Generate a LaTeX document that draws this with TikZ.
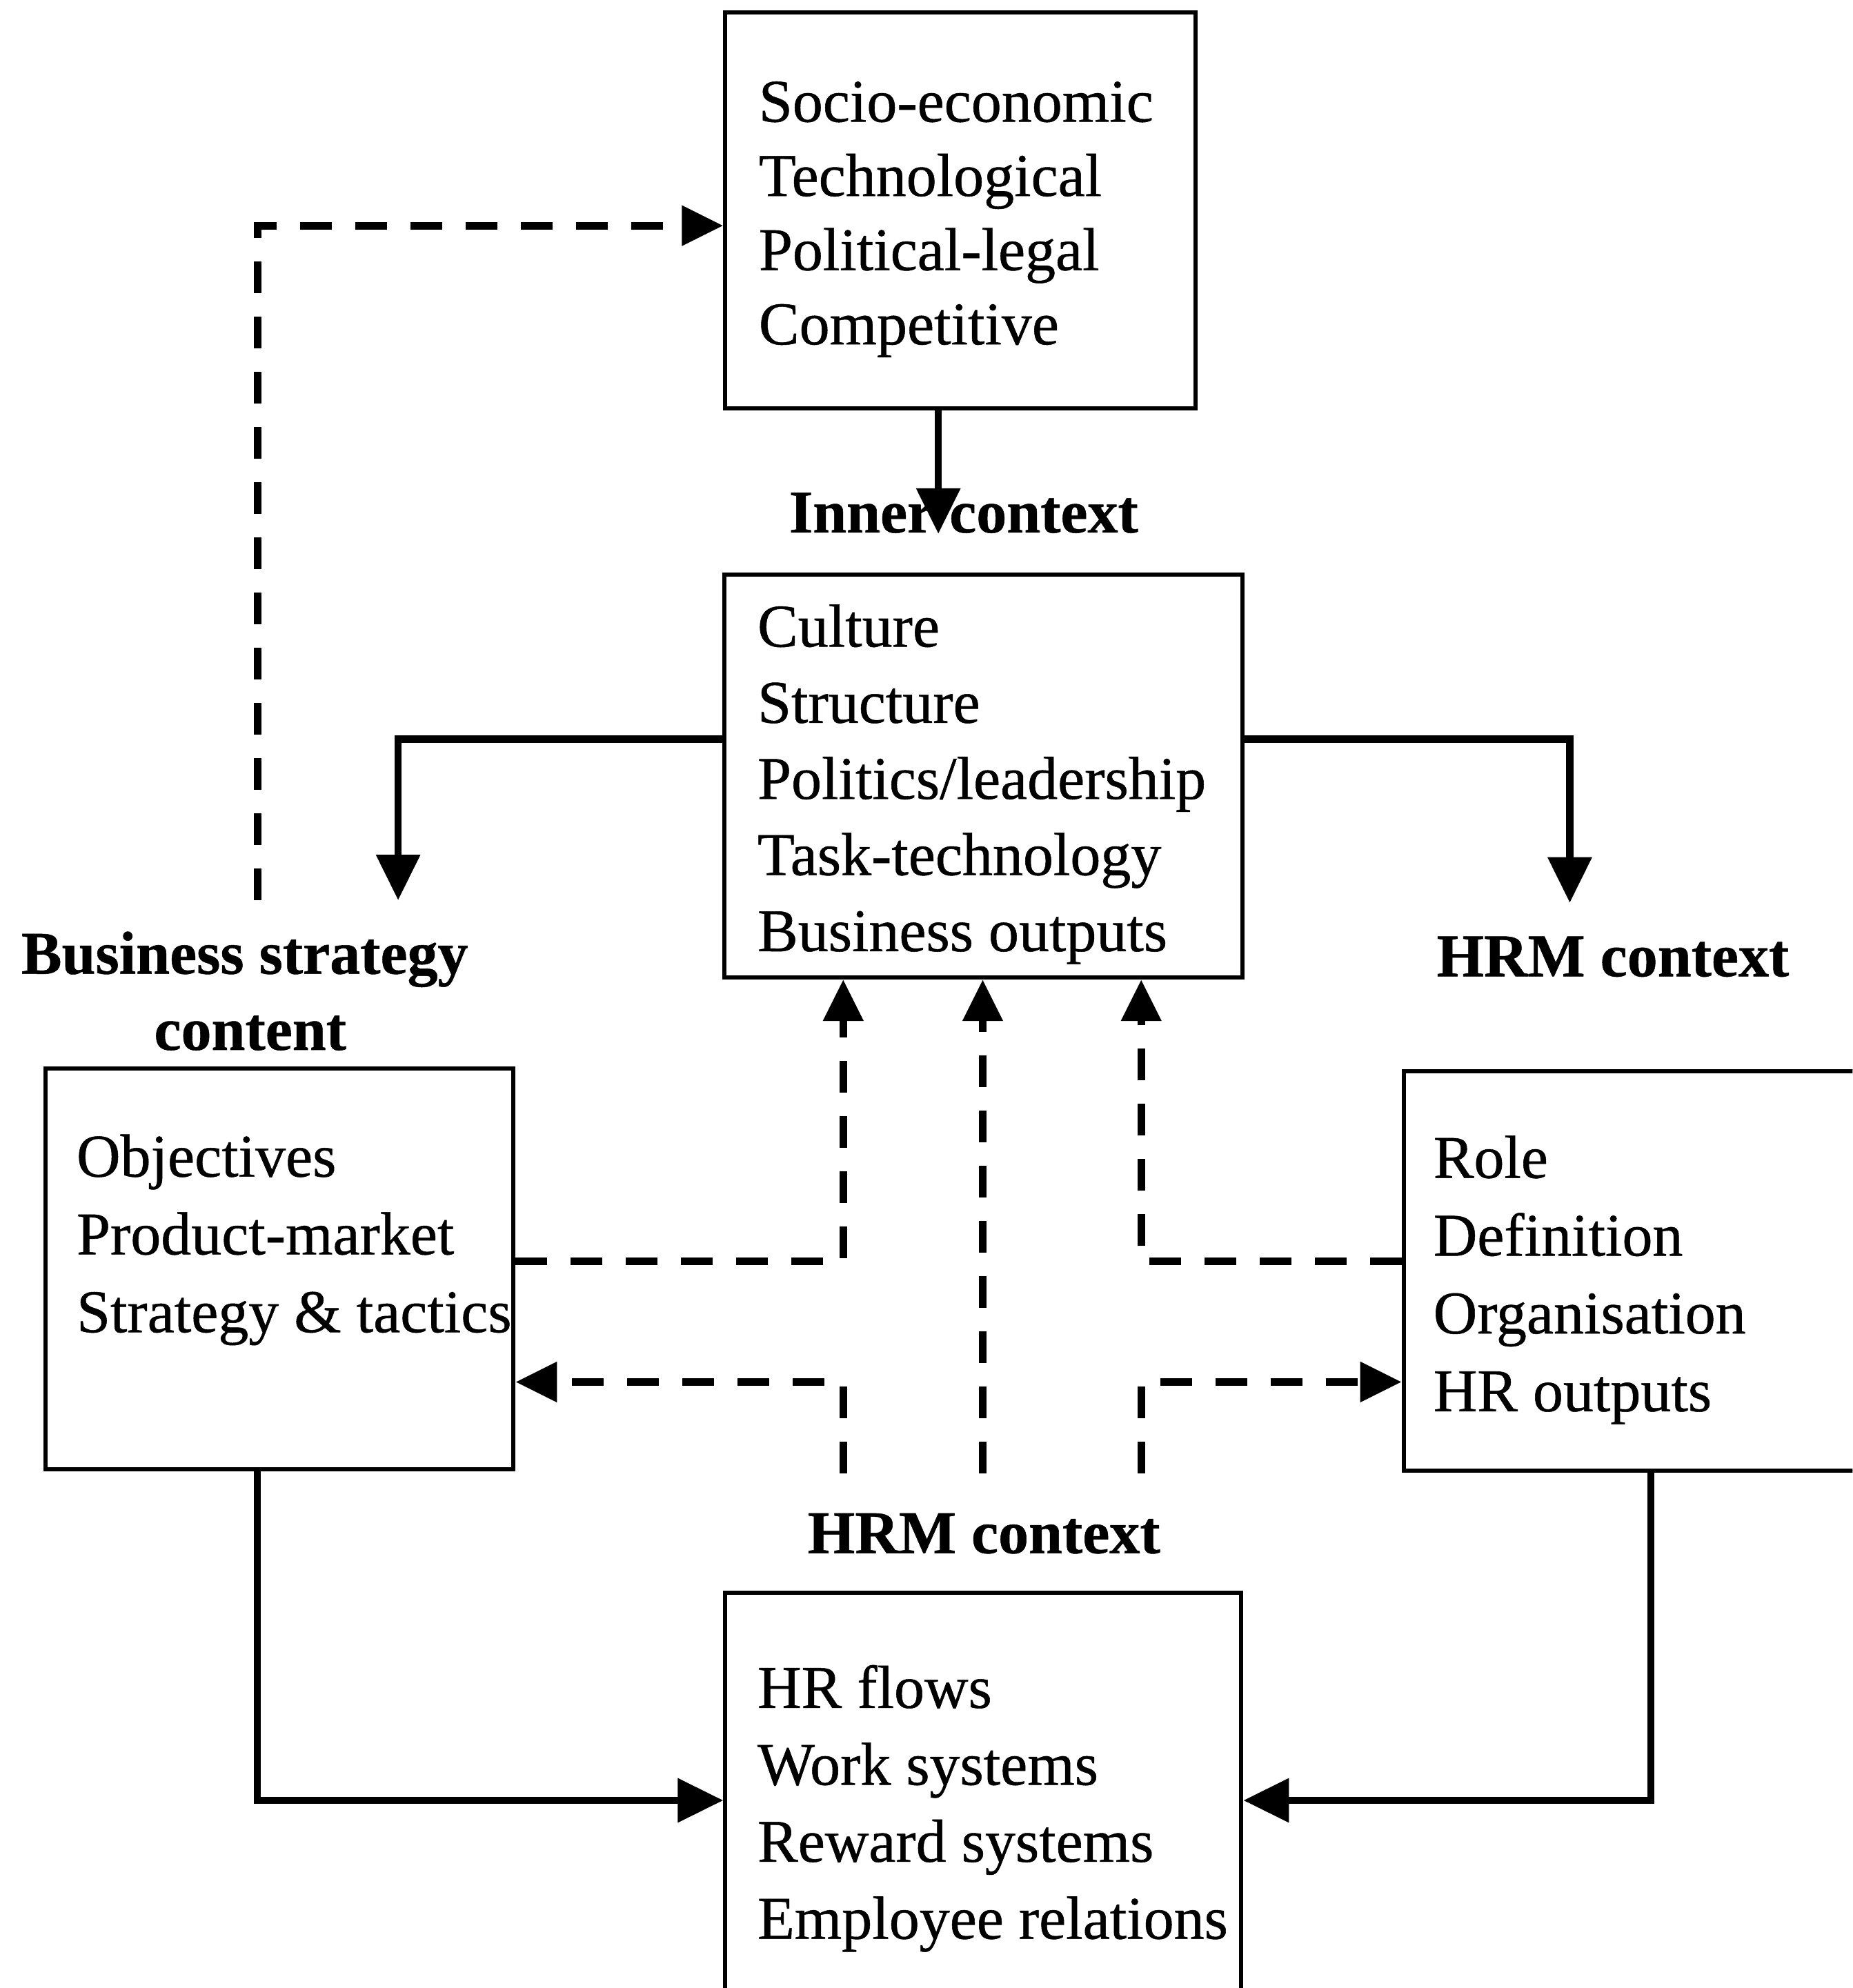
\documentclass[tikz,border=0pt]{standalone}
\usepackage{fontspec}
\setmainfont{Liberation Serif}[FakeBold=0.6]
\usetikzlibrary{arrows.meta,fit}

\begin{document}
\begin{tikzpicture}[x=0.4596pt, y=-0.4596pt,
  box/.style={draw, line width=1.5pt, rectangle, inner sep=0pt},
  txt/.style={inner sep=0pt, anchor=base west, font=\fontsize{22}{27.6}\selectfont},
  lbl/.style={inner sep=0pt, anchor=base, font=\fontsize{22}{27.6}\selectfont\bfseries},
  flow/.style={line width=2.6pt, -{Triangle[length=16.5pt,width=15.5pt]}},
  dflow/.style={line width=2.8pt, dash pattern=on 11.5pt off 8.5pt,
                -{Triangle[length=15pt,width=14pt]}}
]
% page frame
\fill[white] (0,0) rectangle (1461,1568);
\path[use as bounding box] (0,0) rectangle (1461,1568);
\clip (0,0) rectangle (1461,1568);

% boxes
\node[box, fit={(572,10) (943,322)}]   (top)   {};
\node[box, fit={(571,453) (980,771)}]  (mid)   {};
\node[box, fit={(36,843) (405,1159)}]  (left)  {};
\node[box, fit={(1107,845) (1520,1160)}] (right) {};
\node[box, fit={(572,1256) (979,1620)}] (bot)  {};

% box contents
\node[txt, font=\fontsize{22}{26.9}\selectfont] (toptxt) at (598,96)
  {\begin{tabular}[t]{@{}l@{}}Socio-economic\\Technological\\Political-legal\\Competitive\end{tabular}};
\node[txt] (midtxt) at (597,510)
  {\begin{tabular}[t]{@{}l@{}}Culture\\Structure\\Politics/leadership\\Task-technology\\Business outputs\end{tabular}};
\node[txt, font=\fontsize{22}{28.2}\selectfont] (lefttxt) at (60,928)
  {\begin{tabular}[t]{@{}l@{}}Objectives\\Product-market\\Strategy \& tactics\end{tabular}};
\node[txt, font=\fontsize{22}{28.2}\selectfont] (righttxt) at (1130,929)
  {\begin{tabular}[t]{@{}l@{}}Role\\Definition\\Organisation\\HR outputs\end{tabular}};
\node[txt, font=\fontsize{22}{27.9}\selectfont] (bottxt) at (597,1347)
  {\begin{tabular}[t]{@{}l@{}}HR flows\\Work systems\\Reward systems\\Employee relations\end{tabular}};

% context labels
\node[lbl] (inner) at (760,420) {Inner context};
\node[lbl] (bsc) at (193,768) {\begin{tabular}[t]{@{}c@{}}Business strategy\\\hspace*{4pt}content\end{tabular}};
\node[lbl] (hrmr) at (1272,770) {HRM context};
\node[lbl] (hrmb) at (776,1225) {HRM context};

% free ends of connectors
\coordinate (innertip) at (740,421);
\coordinate (bsctip)   at (314,710);
\coordinate (hrmrtip)  at (1238,712);
\coordinate (bscfoot)  at (203,710);
\coordinate (hA) at (665,1162);
\coordinate (hB) at (775,1162);
\coordinate (hC) at (900,1162);

% solid flows
\draw[flow] (740,0 |- top.south) -- (innertip);
\draw[flow] (mid.west |- 0,583) -- (314,583) -- (bsctip);
\draw[flow] (mid.east |- 0,583) -- (1238,583) -- (hrmrtip);
\draw[flow] (203,0 |- left.south) -- (203,1420) -- (bot.west |- 0,1420);
\draw[flow] (1302,0 |- right.south) -- (1302,1420) -- (bot.east |- 0,1420);

% dashed flows
\draw[dflow] (bscfoot) -- (203,178) -- (top.west |- 0,178);
\draw[dflow] (left.east |- 0,995) -- (665,995) -- (665,0 |- mid.south);
\draw[dflow] (right.west |- 0,995) -- (900,995) -- (900,0 |- mid.south);
\draw[dflow] (hB) -- (775,0 |- mid.south);
\draw[dflow] (hA) -- (665,1090) -- (left.east |- 0,1090);
\draw[dflow] (hC) -- (900,1090) -- (right.west |- 0,1090);
\end{tikzpicture}
\end{document}
